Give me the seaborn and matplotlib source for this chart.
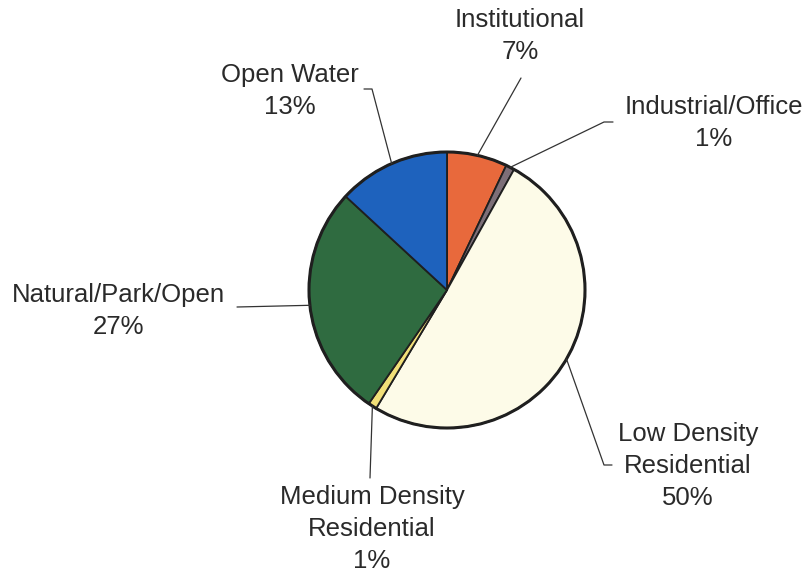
import numpy as np
import seaborn as sns
import matplotlib.pyplot as plt

categories = ['Institutional', 'Industrial/Office', 'Low Density\nResidential',
              'Medium Density\nResidential', 'Natural/Park/Open', 'Open Water']
shares = [7, 1, 50, 1, 27, 13]
colors = ['#e8693c', '#7d6f78', '#fdfbe8', '#f1df78', '#2f6b40', '#1e62bd']

sns.set_theme(style='white')
plt.rcParams['font.family'] = ['Liberation Sans', 'DejaVu Sans']

W, H = 810, 575
fig = plt.figure(figsize=(W / 100, H / 100), dpi=100)
ax = fig.add_axes([0, 0, 1, 1])

cx, cy, r = 447, H - 290, 138
wedges, _ = ax.pie(shares, colors=colors, startangle=90, counterclock=False,
                   center=(cx, cy), radius=r, frame=True,
                   wedgeprops=dict(edgecolor='#1f1f1f', linewidth=1.3))
ax.set_xlim(0, W)
ax.set_ylim(0, H)
ax.set_aspect('equal')
ax.set_axis_off()
ax.add_patch(plt.Circle((cx, cy), r, fill=False, ec='#1f1f1f', lw=2.2))

# label layout in pixel coords (top-left origin): leader path + text centre
layout = [
    ([(521, 78)], (520, 36)),
    ([(604, 122), (613, 122)], (714, 123)),
    ([(604, 465), (612, 465)], (688, 466)),
    ([(370, 478)], (372, 529)),
    ([(237, 307)], (118, 311)),
    ([(372, 89), (364, 89)], (290, 91)),
]

for w, lab, pct, (path, (tx, ty)) in zip(wedges, categories, shares, layout):
    mid = np.deg2rad((w.theta1 + w.theta2) / 2)
    sx, sy = cx + r * np.cos(mid), cy + r * np.sin(mid)
    xs = [sx] + [p[0] for p in path]
    ys = [sy] + [H - p[1] for p in path]
    ax.plot(xs, ys, color='#333333', lw=0.9)
    ax.text(tx, H - ty, f'{lab}\n{pct}%', ha='center', va='center',
            fontsize=18.5, color='#2a2a2a', linespacing=1.4)

fig.savefig('out.png', dpi=100)
